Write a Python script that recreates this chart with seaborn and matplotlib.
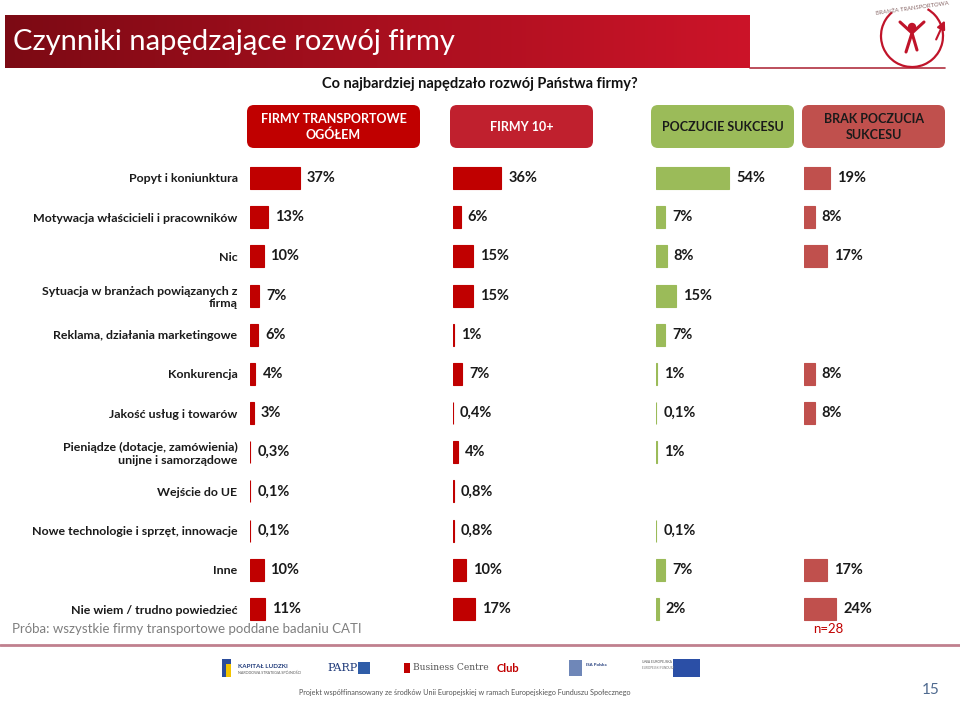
import numpy as np
import pandas as pd
import matplotlib
matplotlib.use("Agg")
import matplotlib.pyplot as plt
import seaborn as sns
from matplotlib.patches import FancyBboxPatch, Arc, Rectangle, Circle
from matplotlib.colors import LinearSegmentedColormap

# ---------------- data ----------------
categories = [
    "Popyt i koniunktura",
    "Motywacja właścicieli i pracowników",
    "Nic",
    "Sytuacja w branżach powiązanych z\nfirmą",
    "Reklama, działania marketingowe",
    "Konkurencja",
    "Jakość usług i towarów",
    "Pieniądze (dotacje, zamówienia)\nunijne i samorządowe",
    "Wejście do UE",
    "Nowe technologie i sprzęt, innowacje",
    "Inne",
    "Nie wiem / trudno powiedzieć",
]
ogolem = [37, 13, 10, 7, 6, 4, 3, 0.3, 0.1, 0.1, 10, 11]
firmy10 = [36, 6, 15, 15, 1, 7, 0.4, 4, 0.8, 0.8, 10, 17]
poczucie = [54, 7, 8, 15, 7, 1, 0.1, 1, np.nan, 0.1, 7, 2]
brak = [19, 8, 17, np.nan, np.nan, 8, 8, np.nan, np.nan, np.nan, 17, 24]
series = [ogolem, firmy10, poczucie, brak]
headers = ["FIRMY TRANSPORTOWE\nOGÓŁEM", "FIRMY 10+", "POCZUCIE SUKCESU", "BRAK POCZUCIA\nSUKCESU"]
bar_colors = ["#C00000", "#C00000", "#9BBB59", "#C0504D"]
header_colors = ["#C00000", "#C0202E", "#9BBB59", "#C0504D"]
header_text_colors = ["white", "white", "#1A1A1A", "#1A1A1A"]
title = "Czynniki napędzające rozwój firmy"
subtitle = "Co najbardziej napędzało rozwój Państwa firmy?"
sample_note = "Próba: wszystkie firmy transportowe poddane badaniu CATI"
n_note = "n=28"
page_no = "15"

# ---------------- style ----------------
sns.set_theme(style="white")
plt.rcParams["font.family"] = ["Lato", "DejaVu Sans"]

W, H = 960, 701
fig = plt.figure(figsize=(W / 100, H / 100), dpi=100)
fig.patch.set_facecolor("white")

# overlay axes in pixel coordinates (y downwards)
ov = fig.add_axes([0, 0, 1, 1])
ov.set_xlim(0, W)
ov.set_ylim(H, 0)
ov.axis("off")

# title banner with gradient
grad = np.linspace(0, 1, 256).reshape(1, -1)
cmap = LinearSegmentedColormap.from_list("ban", ["#7C0A14", "#A80F1E", "#CC1429"])
ov.imshow(grad, extent=[5, 750, 68, 15], aspect="auto", cmap=cmap, zorder=1)
ov.text(13, 42, title, color="white", fontsize=21, va="center", ha="left",
        fontweight="normal", zorder=2)
ov.plot([750, 945], [68, 68], color="#B0303F", lw=1.2, zorder=1)

# logo (simplified)
ov.add_patch(Arc((912, 36), 62, 62, theta1=-60, theta2=230, color="#C0142A", lw=1.6, zorder=2))
ov.annotate("", xy=(946, 18), xytext=(935, 42),
            arrowprops=dict(arrowstyle="-|>", color="#C0142A", lw=1.5), zorder=2)
ov.add_patch(Circle((912, 27), 3.5, color="#C0142A", zorder=2))
ov.plot([900, 912, 924], [22, 33, 22], color="#C0142A", lw=2.2, zorder=2)
ov.plot([906, 912, 917], [52, 33, 50], color="#C0142A", lw=2.2, zorder=2)
ov.text(912, 8, "BRANŻA TRANSPORTOWA", fontsize=4.2, color="#8A6A6A", ha="center", va="center",
        rotation=8, zorder=2)

# subtitle
ov.text(480, 84, subtitle, fontsize=10.5, fontweight="bold", ha="center", va="center", color="#111111")

# header boxes
box_x = [(247, 420), (450, 593), (651, 794), (802, 945)]
for (x0, x1), lab, fc, tc in zip(box_x, headers, header_colors, header_text_colors):
    ov.add_patch(FancyBboxPatch((x0, 105), x1 - x0, 43,
                                boxstyle="round,pad=0,rounding_size=7",
                                fc=fc, ec="none", zorder=2))
    ov.text((x0 + x1) / 2, 127, lab, color=tc, fontsize=9, fontweight="bold",
            ha="center", va="center", linespacing=1.35, zorder=3)

# ---------------- panels ----------------
px_per_pct = 1.35
panel_left = [250, 452.5, 656, 804]
panel_w = 140
row_top, row_bot = 158.4, 628.6
fmt = lambda v: (f"{v:g}".replace(".", ",") + "%")

for i, (vals, col, left) in enumerate(zip(series, bar_colors, panel_left)):
    ax = fig.add_axes([left / W, 1 - row_bot / H, panel_w / W, (row_bot - row_top) / H])
    ax.patch.set_alpha(0)
    df = pd.DataFrame({"kategoria": categories, "wartosc": vals})
    sns.barplot(data=df, x="wartosc", y="kategoria", order=categories, orient="h",
                color=col, saturation=1, width=0.56, edgecolor=col, linewidth=0.8, ax=ax)
    ax.set_xlim(0, panel_w / px_per_pct)
    ax.set_ylim(len(categories) - 0.5, -0.5)
    ax.set_xlabel("")
    ax.set_ylabel("")
    ax.set_xticks([])
    for s in ax.spines.values():
        s.set_visible(False)
    for j, v in enumerate(vals):
        if not np.isnan(v):
            ax.text(v + 7 / px_per_pct, j, fmt(v), va="center", ha="left",
                    fontsize=10.5, fontweight="bold", color="#1A1A1A")
    if i == 0:
        ax.tick_params(axis="y", length=0, pad=9)
        for t in ax.get_yticklabels():
            t.set_fontweight("bold")
            t.set_fontsize(8.9)
            t.set_color("#1A1A1A")
            t.set_linespacing(1.2)
    else:
        ax.set_yticks([])

# footer
ov.text(12, 629, sample_note, fontsize=9.5, color="#7F7F7F", ha="left", va="center")
ov.text(828, 629, n_note, fontsize=9.5, color="#C00000", ha="center", va="center")
ov.plot([0, 960], [645, 645], color="#C0808E", lw=2)

# sponsor logos (simplified)
ov.add_patch(Rectangle((222, 659), 9, 18, fc="#2B4C9B", ec="none"))
ov.add_patch(Rectangle((226, 664), 5, 13, fc="#F2C300", ec="none"))
ov.text(238, 666, "KAPITAŁ LUDZKI", fontsize=4.5, fontweight="bold", color="#1F3A7A", va="center")
ov.text(238, 673, "NARODOWA STRATEGIA SPÓJNOŚCI", fontsize=2.6, color="#555555", va="center")
ov.text(327, 668, "PARP", fontsize=8, color="#1F3A7A", va="center", family="DejaVu Serif")
ov.add_patch(Rectangle((358, 662), 12, 12, fc="#2F5DA8", ec="none"))
ov.add_patch(Rectangle((404, 663), 6, 10, fc="#C00000", ec="none"))
ov.text(413, 668, "Business Centre", fontsize=6.6, color="#555555", va="center", family="DejaVu Serif")
ov.text(497, 668, "Club", fontsize=8, color="#C00000", va="center", fontweight="bold")
ov.add_patch(Rectangle((569, 660), 13, 16, fc="#6F87B8", ec="none"))
ov.text(586, 665, "ISA Polska", fontsize=3.2, color="#1F3A7A", va="center", fontweight="bold")
ov.text(642, 662, "UNIA EUROPEJSKA", fontsize=2.4, color="#555555", va="center")
ov.text(642, 668, "EUROPEJSKI FUNDUSZ", fontsize=2.2, color="#777777", va="center")
ov.add_patch(Rectangle((673, 659), 27, 18, fc="#2B4FA6", ec="none"))
ov.text(465, 693, "Projekt współfinansowany ze środków Unii Europejskiej w ramach Europejskiego Funduszu Społecznego",
        fontsize=5.2, color="#555555", ha="center", va="center")
ov.text(931, 690, page_no, fontsize=11, color="#4F6A8F", ha="center", va="center")

fig.savefig("out.png", dpi=100)
